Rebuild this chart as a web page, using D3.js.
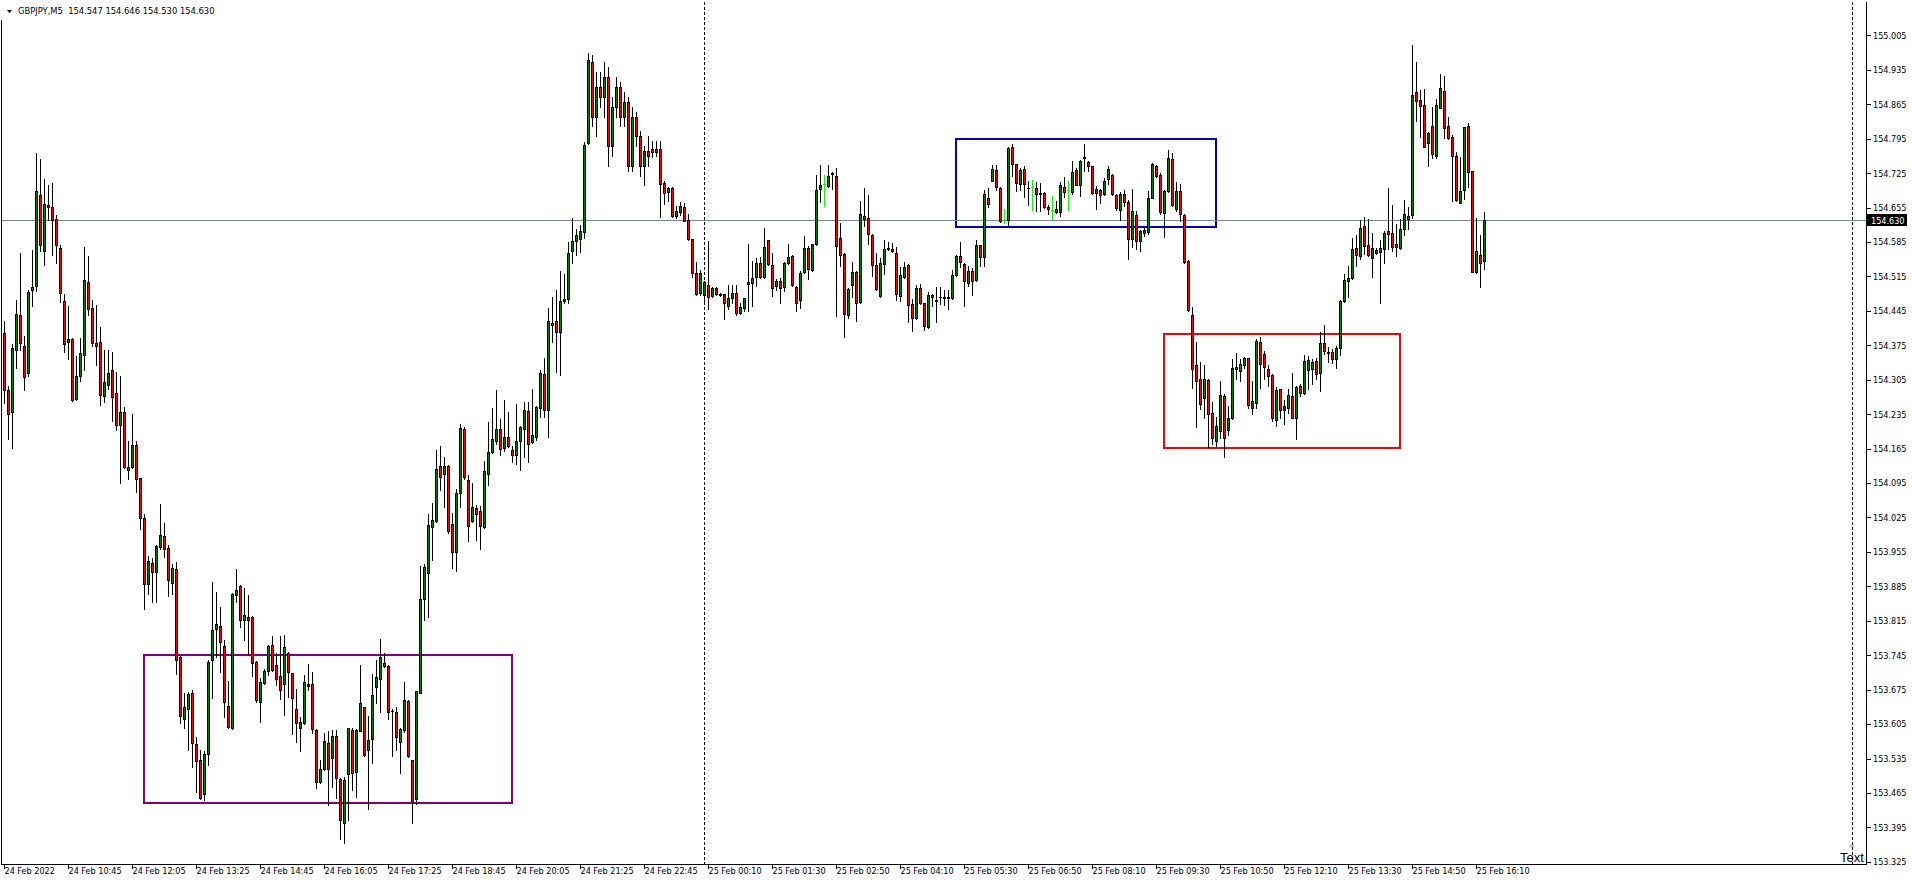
<!DOCTYPE html>
<html>
<head>
<meta charset="utf-8">
<script src="https://cdn.jsdelivr.net/npm/d3@7"></script>
<style>
  html, body { margin: 0; padding: 0; background: #fff; }
  svg { display: block; }
  text { font-family: "DejaVu Sans Condensed", "DejaVu Sans", sans-serif; font-size: 9px; fill: #000; }
</style>
</head>
<body>
<div id="chart"></div>
<script>
// GBPJPY M5 candles (bar 0 = leftmost bar)
const symbolTitle = "GBPJPY,M5";
const lastQuote = [154.547, 154.646, 154.530, 154.630];
const bidPrice = 154.630;

const opens = [
  154.401,154.285,154.239,154.366,154.436,154.374,154.319,154.487,154.495,154.680,
  154.567,154.661,154.657,154.632,154.573,154.466,154.381,154.388,154.266,154.312,
  154.355,154.503,154.451,154.380,154.381,154.271,154.294,154.325,154.278,154.212,
  154.239,154.122,154.127,154.172,154.105,154.023,153.889,153.933,153.914,153.965,
  153.987,153.963,153.892,153.921,153.742,153.615,153.635,153.669,153.564,153.531,
  153.463,153.544,153.736,153.798,153.805,153.763,153.642,153.596,153.868,153.886,
  153.817,153.822,153.822,153.732,153.649,153.689,153.713,153.766,153.725,153.702,
  153.687,153.749,153.708,153.636,153.596,153.607,153.683,153.687,153.593,153.487,
  153.514,153.567,153.535,153.581,153.493,153.404,153.503,153.593,153.508,153.591,
  153.639,153.552,153.574,153.680,153.696,153.729,153.723,153.632,153.630,153.569,
  153.592,153.652,153.531,153.452,153.669,153.860,153.912,154.005,154.017,154.129,
  154.114,154.129,154.012,153.954,154.074,154.205,154.101,154.017,154.045,154.038,
  154.005,154.114,154.159,154.180,154.205,154.166,154.189,154.163,154.151,154.181,
  154.205,154.241,154.179,154.189,154.248,154.316,154.243,154.421,154.425,154.403,
  154.465,154.469,154.567,154.587,154.592,154.605,154.787,154.950,154.840,154.900,
  154.880,154.920,154.780,154.860,154.900,154.840,154.870,154.740,154.840,154.800,
  154.740,154.770,154.775,154.768,154.775,154.705,154.686,154.695,154.637,154.645,
  154.656,154.630,154.591,154.522,154.482,154.477,154.497,154.476,154.491,154.479,
  154.479,154.455,154.471,154.481,154.440,154.451,154.503,154.501,154.513,154.542,
  154.513,154.589,154.538,154.496,154.506,154.493,154.542,154.557,154.494,154.467,
  154.523,154.573,154.528,154.581,154.692,154.703,154.699,154.726,154.720,154.593,
  154.561,154.437,154.498,154.525,154.464,154.637,154.634,154.600,154.539,154.475,
  154.540,154.571,154.570,154.563,154.475,154.513,154.539,154.459,154.430,154.492,
  154.461,154.413,154.477,154.468,154.473,154.473,154.472,154.471,154.517,154.557,
  154.540,154.502,154.527,154.508,154.578,154.554,154.675,154.710,154.732,154.695,
  154.630,154.629,154.779,154.743,154.703,154.734,154.695,154.697,154.695,154.684,
  154.685,154.657,154.651,154.646,154.646,154.697,154.690,154.686,154.732,154.701,
  154.756,154.748,154.739,154.685,154.690,154.683,154.714,154.722,154.680,154.650,
  154.682,154.667,154.591,154.639,154.588,154.604,154.605,154.675,154.739,154.722,
  154.644,154.688,154.754,154.652,154.688,154.640,154.547,154.437,154.335,154.306,
  154.267,154.305,154.237,154.181,154.200,154.272,154.202,154.227,154.327,154.322,
  154.335,154.349,154.248,154.257,154.382,154.357,154.327,154.314,154.223,154.286,
  154.244,154.248,154.272,154.228,154.293,154.279,154.324,154.327,154.343,154.318,
  154.379,154.361,154.362,154.347,154.369,154.466,154.505,154.511,154.573,154.557,
  154.618,154.578,154.553,154.569,154.564,154.571,154.607,154.604,154.580,154.573,
  154.611,154.638,154.639,154.889,154.874,154.863,154.787,154.821,154.760,154.858,
  154.892,154.821,154.798,154.760,154.665,154.690,154.821,154.729,154.523,154.559,
  154.547
];
const highs = [
  154.425,154.293,154.378,154.467,154.563,154.393,154.488,154.569,154.765,154.753,
  154.714,154.700,154.704,154.639,154.579,154.480,154.454,154.389,154.354,154.389,
  154.574,154.556,154.467,154.457,154.412,154.365,154.366,154.362,154.321,154.312,
  154.249,154.181,154.235,154.181,154.106,154.033,153.946,153.943,153.970,154.052,
  154.013,153.970,153.930,153.935,153.744,153.668,153.671,153.674,153.579,153.552,
  153.551,153.736,153.893,153.873,153.844,153.776,153.693,153.871,153.921,153.888,
  153.881,153.868,153.824,153.734,153.698,153.717,153.766,153.784,153.749,153.784,
  153.786,153.751,153.709,153.676,153.620,153.704,153.727,153.710,153.595,153.532,
  153.586,153.590,153.593,153.593,153.496,153.497,153.598,153.596,153.595,153.725,
  153.640,153.621,153.707,153.736,153.778,153.750,153.725,153.635,153.639,153.596,
  153.691,153.653,153.532,153.673,153.926,153.931,154.032,154.054,154.163,154.171,
  154.147,154.131,154.035,154.082,154.215,154.209,154.111,154.096,154.050,154.048,
  154.139,154.219,154.248,154.285,154.226,154.264,154.239,154.171,154.255,154.211,
  154.260,154.259,154.286,154.252,154.324,154.349,154.450,154.474,154.488,154.526,
  154.520,154.585,154.634,154.611,154.619,154.789,154.970,154.965,154.930,154.930,
  154.950,154.940,154.880,154.920,154.910,154.890,154.880,154.860,154.850,154.810,
  154.780,154.800,154.790,154.790,154.790,154.708,154.696,154.696,154.658,154.666,
  154.664,154.642,154.592,154.545,154.529,154.505,154.588,154.493,154.493,154.481,
  154.480,154.498,154.497,154.497,154.461,154.472,154.581,154.546,154.552,154.555,
  154.613,154.590,154.562,154.510,154.512,154.545,154.581,154.559,154.496,154.526,
  154.598,154.576,154.581,154.722,154.741,154.722,154.741,154.728,154.736,154.624,
  154.562,154.491,154.544,154.527,154.669,154.695,154.680,154.601,154.563,154.553,
  154.590,154.585,154.583,154.574,154.535,154.544,154.540,154.469,154.498,154.500,
  154.462,154.484,154.479,154.494,154.493,154.487,154.487,154.529,154.559,154.586,
  154.542,154.537,154.532,154.589,154.579,154.691,154.695,154.741,154.742,154.697,
  154.652,154.779,154.785,154.744,154.736,154.739,154.710,154.712,154.707,154.705,
  154.686,154.661,154.678,154.668,154.707,154.718,154.708,154.749,154.736,154.751,
  154.785,154.749,154.740,154.698,154.692,154.715,154.739,154.724,154.683,154.686,
  154.691,154.671,154.693,154.648,154.610,154.614,154.688,154.745,154.742,154.726,
  154.690,154.773,154.765,154.707,154.703,154.642,154.548,154.452,154.381,154.342,
  154.335,154.306,154.259,154.229,154.303,154.276,154.252,154.347,154.360,154.347,
  154.352,154.350,154.303,154.388,154.392,154.364,154.335,154.316,154.291,154.287,
  154.263,154.286,154.318,154.293,154.296,154.355,154.354,154.347,154.350,154.403,
  154.416,154.371,154.367,154.374,154.467,154.519,154.537,154.593,154.600,154.630,
  154.635,154.632,154.603,154.572,154.590,154.607,154.694,154.660,154.622,154.631,
  154.670,154.656,154.986,154.950,154.894,154.896,154.808,154.860,154.876,154.926,
  154.922,154.840,154.802,154.767,154.757,154.819,154.826,154.730,154.634,154.599,
  154.646
];
const lows = [
  154.258,154.184,154.167,154.328,154.366,154.285,154.313,154.454,154.486,154.566,
  154.539,154.629,154.559,154.543,154.463,154.361,154.347,154.262,154.264,154.303,
  154.325,154.436,154.374,154.334,154.254,154.259,154.286,154.222,154.203,154.096,
  154.125,154.103,154.126,154.076,154.002,153.839,153.869,153.853,153.853,153.960,
  153.945,153.865,153.869,153.707,153.607,153.596,153.552,153.517,153.467,153.453,
  153.450,153.522,153.657,153.742,153.710,153.619,153.598,153.595,153.854,153.802,
  153.775,153.746,153.703,153.650,153.609,153.687,153.705,153.712,153.685,153.655,
  153.624,153.661,153.585,153.569,153.550,153.606,153.674,153.586,153.475,153.486,
  153.511,153.440,153.478,153.454,153.372,153.363,153.410,153.471,153.456,153.590,
  153.540,153.433,153.525,153.647,153.630,153.722,153.615,153.541,153.552,153.505,
  153.588,153.539,153.403,153.442,153.668,153.817,153.822,153.938,154.015,154.080,
  154.046,153.993,153.923,153.917,154.046,154.103,153.977,154.015,153.979,153.961,
  154.003,154.091,154.157,154.175,154.153,154.161,154.169,154.137,154.133,154.121,
  154.148,154.137,154.177,154.183,154.230,154.230,154.189,154.381,154.321,154.314,
  154.460,154.460,154.542,154.558,154.565,154.593,154.785,154.820,154.800,154.860,
  154.840,154.740,154.760,154.840,154.820,154.820,154.730,154.730,154.780,154.720,
  154.700,154.740,154.757,154.760,154.635,154.662,154.668,154.635,154.633,154.639,
  154.627,154.590,154.513,154.478,154.478,154.465,154.449,154.474,154.478,154.476,
  154.428,154.449,154.462,154.437,154.438,154.445,154.444,154.455,154.496,154.512,
  154.512,154.539,154.475,154.487,154.461,154.486,154.540,154.496,154.445,154.450,
  154.522,154.510,154.527,154.578,154.666,154.659,154.697,154.693,154.434,154.537,
  154.391,154.430,154.473,154.425,154.462,154.618,154.581,154.515,154.488,154.474,
  154.520,154.569,154.565,154.467,154.466,154.512,154.422,154.405,154.429,154.459,
  154.407,154.411,154.454,154.422,154.458,154.456,154.449,154.469,154.515,154.534,
  154.454,154.496,154.477,154.506,154.537,154.537,154.656,154.709,154.691,154.625,
  154.623,154.618,154.720,154.688,154.691,154.676,154.661,154.651,154.649,154.649,
  154.655,154.641,154.632,154.644,154.637,154.676,154.650,154.683,154.700,154.678,
  154.729,154.729,154.683,154.652,154.665,154.680,154.703,154.681,154.651,154.629,
  154.659,154.551,154.574,154.571,154.566,154.598,154.602,154.674,154.717,154.641,
  154.595,154.686,154.659,154.649,154.627,154.542,154.444,154.289,154.208,154.245,
  154.228,154.169,154.174,154.170,154.187,154.147,154.193,154.225,154.306,154.303,
  154.329,154.248,154.236,154.247,154.289,154.306,154.293,154.221,154.211,154.228,
  154.214,154.238,154.227,154.185,154.272,154.277,154.286,154.297,154.306,154.282,
  154.357,154.342,154.340,154.329,154.356,154.464,154.474,154.510,154.537,154.551,
  154.561,154.557,154.513,154.561,154.461,154.542,154.571,154.566,154.557,154.571,
  154.599,154.611,154.633,154.831,154.799,154.778,154.740,154.756,154.756,154.857,
  154.797,154.795,154.668,154.668,154.664,154.672,154.697,154.523,154.521,154.493,
  154.530
];
const closes = [
  154.285,154.235,154.370,154.439,154.380,154.311,154.484,154.494,154.688,154.578,
  154.663,154.656,154.630,154.578,154.482,154.378,154.388,154.264,154.313,154.360,
  154.508,154.449,154.380,154.374,154.273,154.301,154.319,154.269,154.212,154.240,
  154.127,154.128,154.172,154.103,154.023,153.889,153.936,153.915,153.967,153.989,
  153.961,153.898,153.923,153.736,153.621,153.639,153.666,153.566,153.530,153.454,
  153.544,153.732,153.797,153.809,153.771,153.649,153.600,153.870,153.877,153.817,
  153.827,153.817,153.729,153.654,153.691,153.713,153.763,153.715,153.696,153.674,
  153.761,153.710,153.657,153.607,153.610,153.691,153.686,153.594,153.487,153.514,
  153.571,153.513,153.581,153.495,153.410,153.491,153.596,153.506,153.593,153.647,
  153.542,153.573,153.664,153.700,153.742,153.723,153.630,153.631,153.578,153.595,
  153.654,153.541,153.447,153.672,153.860,153.924,154.009,154.019,154.123,154.108,
  154.129,153.998,153.954,154.074,154.206,154.107,154.007,154.046,154.033,154.007,
  154.119,154.159,154.184,154.205,154.165,154.188,154.171,154.151,154.181,154.208,
  154.243,154.175,154.192,154.250,154.319,154.243,154.425,154.417,154.403,154.466,
  154.470,154.562,154.587,154.599,154.608,154.783,154.954,154.840,154.900,154.880,
  154.920,154.780,154.860,154.900,154.840,154.870,154.740,154.840,154.800,154.740,
  154.770,154.760,154.768,154.775,154.703,154.685,154.695,154.637,154.649,154.659,
  154.628,154.591,154.521,154.480,154.522,154.504,154.474,154.491,154.480,154.478,
  154.462,154.472,154.481,154.440,154.452,154.471,154.499,154.512,154.542,154.514,
  154.574,154.540,154.491,154.506,154.491,154.542,154.555,154.497,154.462,154.522,
  154.573,154.530,154.580,154.691,154.701,154.703,154.720,154.723,154.576,154.559,
  154.439,154.490,154.525,154.460,154.641,154.632,154.602,154.538,154.490,154.542,
  154.570,154.573,154.566,154.479,154.517,154.535,154.457,154.430,154.492,154.461,
  154.415,154.477,154.473,154.466,154.474,154.472,154.473,154.517,154.557,154.544,
  154.505,154.527,154.506,154.578,154.554,154.682,154.663,154.734,154.697,154.627,
  154.630,154.777,154.744,154.705,154.732,154.702,154.694,154.697,154.683,154.683,
  154.657,154.652,154.651,154.652,154.700,154.686,154.690,154.728,154.701,154.749,
  154.758,154.739,154.685,154.692,154.680,154.709,154.733,154.683,154.654,154.682,
  154.666,154.591,154.648,154.588,154.607,154.610,154.675,154.744,154.719,154.646,
  154.688,154.756,154.661,154.688,154.642,154.544,154.447,154.327,154.303,154.255,
  154.306,154.235,154.187,154.211,154.274,154.187,154.227,154.329,154.331,154.337,
  154.349,154.254,154.262,154.384,154.337,154.330,154.312,154.227,154.284,154.243,
  154.252,154.274,154.228,154.291,154.279,154.343,154.345,154.342,154.316,154.379,
  154.364,154.360,154.347,154.369,154.466,154.508,154.512,154.571,154.559,154.614,
  154.576,154.559,154.572,154.563,154.573,154.604,154.602,154.575,154.574,154.611,
  154.641,154.631,154.884,154.872,154.862,154.779,154.806,154.763,154.863,154.899,
  154.817,154.796,154.760,154.670,154.688,154.818,154.728,154.524,154.566,154.543,
  154.630
];

const priceTicks = [
  155.005,154.935,154.865,154.795,154.725,154.655,154.585,154.515,154.445,
  154.375,154.305,154.235,154.165,154.095,154.025,153.955,153.885,153.815,
  153.745,153.675,153.605,153.535,153.465,153.395,153.325
];
const timeTickBars = [0,16,32,48,64,80,96,112,128,144,160,176,192,208,224,240,256,272,288,304,320,336,352,368];
const timeTickLabels = [
  "24 Feb 2022","24 Feb 10:45","24 Feb 12:05","24 Feb 13:25","24 Feb 14:45","24 Feb 16:05",
  "24 Feb 17:25","24 Feb 18:45","24 Feb 20:05","24 Feb 21:25","24 Feb 22:45","25 Feb 00:10",
  "25 Feb 01:30","25 Feb 02:50","25 Feb 04:10","25 Feb 05:30","25 Feb 06:50","25 Feb 08:10",
  "25 Feb 09:30","25 Feb 10:50","25 Feb 12:10","25 Feb 13:30","25 Feb 14:50","25 Feb 16:10"
];
const daySeparatorBar = 175;

// rectangles drawn on the chart: bar range and price range
const boxFrom = [34.75, 237.75, 289.75];
const boxTo = [126.75, 302.75, 348.75];
const boxHigh = [153.745, 154.794, 154.397];
const boxLow = [153.445, 154.615, 154.167];
const boxColor = ["#800080", "#0000cd", "#ff0000"];

const W = 1912, H = 885;
const right = 1866, bottom = 864;

const svg = d3.select("#chart").append("svg")
    .attr("width", W)
    .attr("height", H)
    .style("shape-rendering", "crispEdges");

const x = d3.scaleLinear().domain([0, 370]).range([4, 1484]);
const y = d3.scaleLinear().domain([153.325, 155.005]).range([861.8, 35.4]);

// rectangles
svg.append("g").selectAll("rect")
  .data(boxFrom)
  .join("rect")
    .attr("x", (d, k) => Math.round(x(d)) + 0.5)
    .attr("y", (d, k) => Math.round(y(boxHigh[k])))
    .attr("width", (d, k) => Math.round(x(boxTo[k])) - Math.round(x(d)))
    .attr("height", (d, k) => Math.round(y(boxLow[k])) - Math.round(y(boxHigh[k])))
    .attr("fill", "none")
    .attr("stroke", (d, k) => boxColor[k])
    .attr("stroke-width", 2);

// day separator and the other dotted vertical
svg.append("line")
    .attr("x1", Math.round(x(daySeparatorBar)) + 0.5).attr("x2", Math.round(x(daySeparatorBar)) + 0.5)
    .attr("y1", 2).attr("y2", bottom)
    .attr("stroke", "#000").attr("stroke-dasharray", "3,2");
svg.append("line")
    .attr("x1", 1852.5).attr("x2", 1852.5)
    .attr("y1", 2).attr("y2", bottom)
    .attr("stroke", "#000").attr("stroke-dasharray", "3,2");

// bid line
const bidY = Math.round(y(bidPrice)) + 0.5;
svg.append("line")
    .attr("x1", 2).attr("x2", right)
    .attr("y1", bidY).attr("y2", bidY)
    .attr("stroke", "#778899");

// candles
const bars = d3.range(opens.length);
const candle = svg.append("g").selectAll("g")
  .data(bars)
  .join("g");

candle.append("rect")
    .attr("x", i => Math.round(x(i)))
    .attr("y", i => Math.round(y(highs[i])))
    .attr("width", 1)
    .attr("height", i => Math.round(y(lows[i])) - Math.round(y(highs[i])) + 1)
    .attr("fill", i => opens[i] === closes[i] ? "#00ff00" : "#000");

candle.append("rect")
    .attr("x", i => Math.round(x(i)) - 1)
    .attr("y", i => Math.round(y(Math.max(opens[i], closes[i]))))
    .attr("width", 3)
    .attr("height", i => opens[i] === closes[i] ? 1 :
        Math.round(y(Math.min(opens[i], closes[i]))) - Math.round(y(Math.max(opens[i], closes[i]))) + 1)
    .attr("fill", i => opens[i] === closes[i] ? "#00ff00" : "#000");

candle.filter(i => opens[i] !== closes[i])
  .append("rect")
    .attr("x", i => Math.round(x(i)))
    .attr("y", i => Math.round(y(Math.max(opens[i], closes[i]))) + 1)
    .attr("width", 1)
    .attr("height", i => Math.max(0,
        Math.round(y(Math.min(opens[i], closes[i]))) - Math.round(y(Math.max(opens[i], closes[i]))) - 1))
    .attr("fill", i => closes[i] > opens[i] ? "#008000" : "#ff0000");

// frame
const frame = svg.append("g").attr("stroke", "#000");
frame.append("line").attr("x1", 1.5).attr("x2", 1.5).attr("y1", 20).attr("y2", bottom + 1);
frame.append("line").attr("x1", 1).attr("x2", right + 1).attr("y1", bottom + 0.5).attr("y2", bottom + 0.5);
frame.append("line").attr("x1", right + 0.5).attr("x2", right + 0.5).attr("y1", 2).attr("y2", bottom + 1);

// price scale
const yAxis = svg.append("g")
    .attr("transform", `translate(${right + 1},0)`)
    .call(d3.axisRight(y).tickValues(priceTicks).tickSize(4).tickPadding(2).tickFormat(d3.format(".3f")));
yAxis.select(".domain").remove();

// bid label
svg.append("rect")
    .attr("x", right + 1).attr("y", bidY - 6.5)
    .attr("width", 40).attr("height", 12)
    .attr("fill", "#000");
svg.append("text")
    .attr("x", right + 5).attr("y", bidY + 3.5)
    .style("fill", "#fff")
    .text(d3.format(".3f")(bidPrice));

// time scale
const xAxis = svg.append("g")
    .attr("transform", `translate(0,${bottom + 1})`)
    .call(d3.axisBottom(x).tickValues(timeTickBars).tickSize(4).tickFormat((d, k) => timeTickLabels[k]));
xAxis.select(".domain").remove();
xAxis.selectAll(".tick text").attr("text-anchor", "start").attr("x", 0).attr("y", 3);

// header
svg.append("path").attr("d", "M7,10L12,10L9.5,13Z").attr("fill", "#000").style("shape-rendering", "auto");
svg.append("text")
    .attr("x", 18).attr("y", 14)
    .style("white-space", "pre")
    .style("font-size", "9.3px")
    .text(`${symbolTitle}  ${lastQuote.map(d3.format(".3f")).join(" ")}`);

// text object with icon in the bottom right corner
svg.append("text")
    .attr("x", 1852).attr("y", 848)
    .attr("text-anchor", "middle")
    .style("font-family", "'DejaVu Sans', sans-serif")
    .style("font-size", "7px")
    .style("fill", "#808080")
    .text("\u2620");
svg.append("text")
    .attr("x", 1840).attr("y", 862)
    .style("font-family", "'Liberation Sans', sans-serif")
    .style("font-size", "13px")
    .text("Text");
</script>
</body>
</html>
